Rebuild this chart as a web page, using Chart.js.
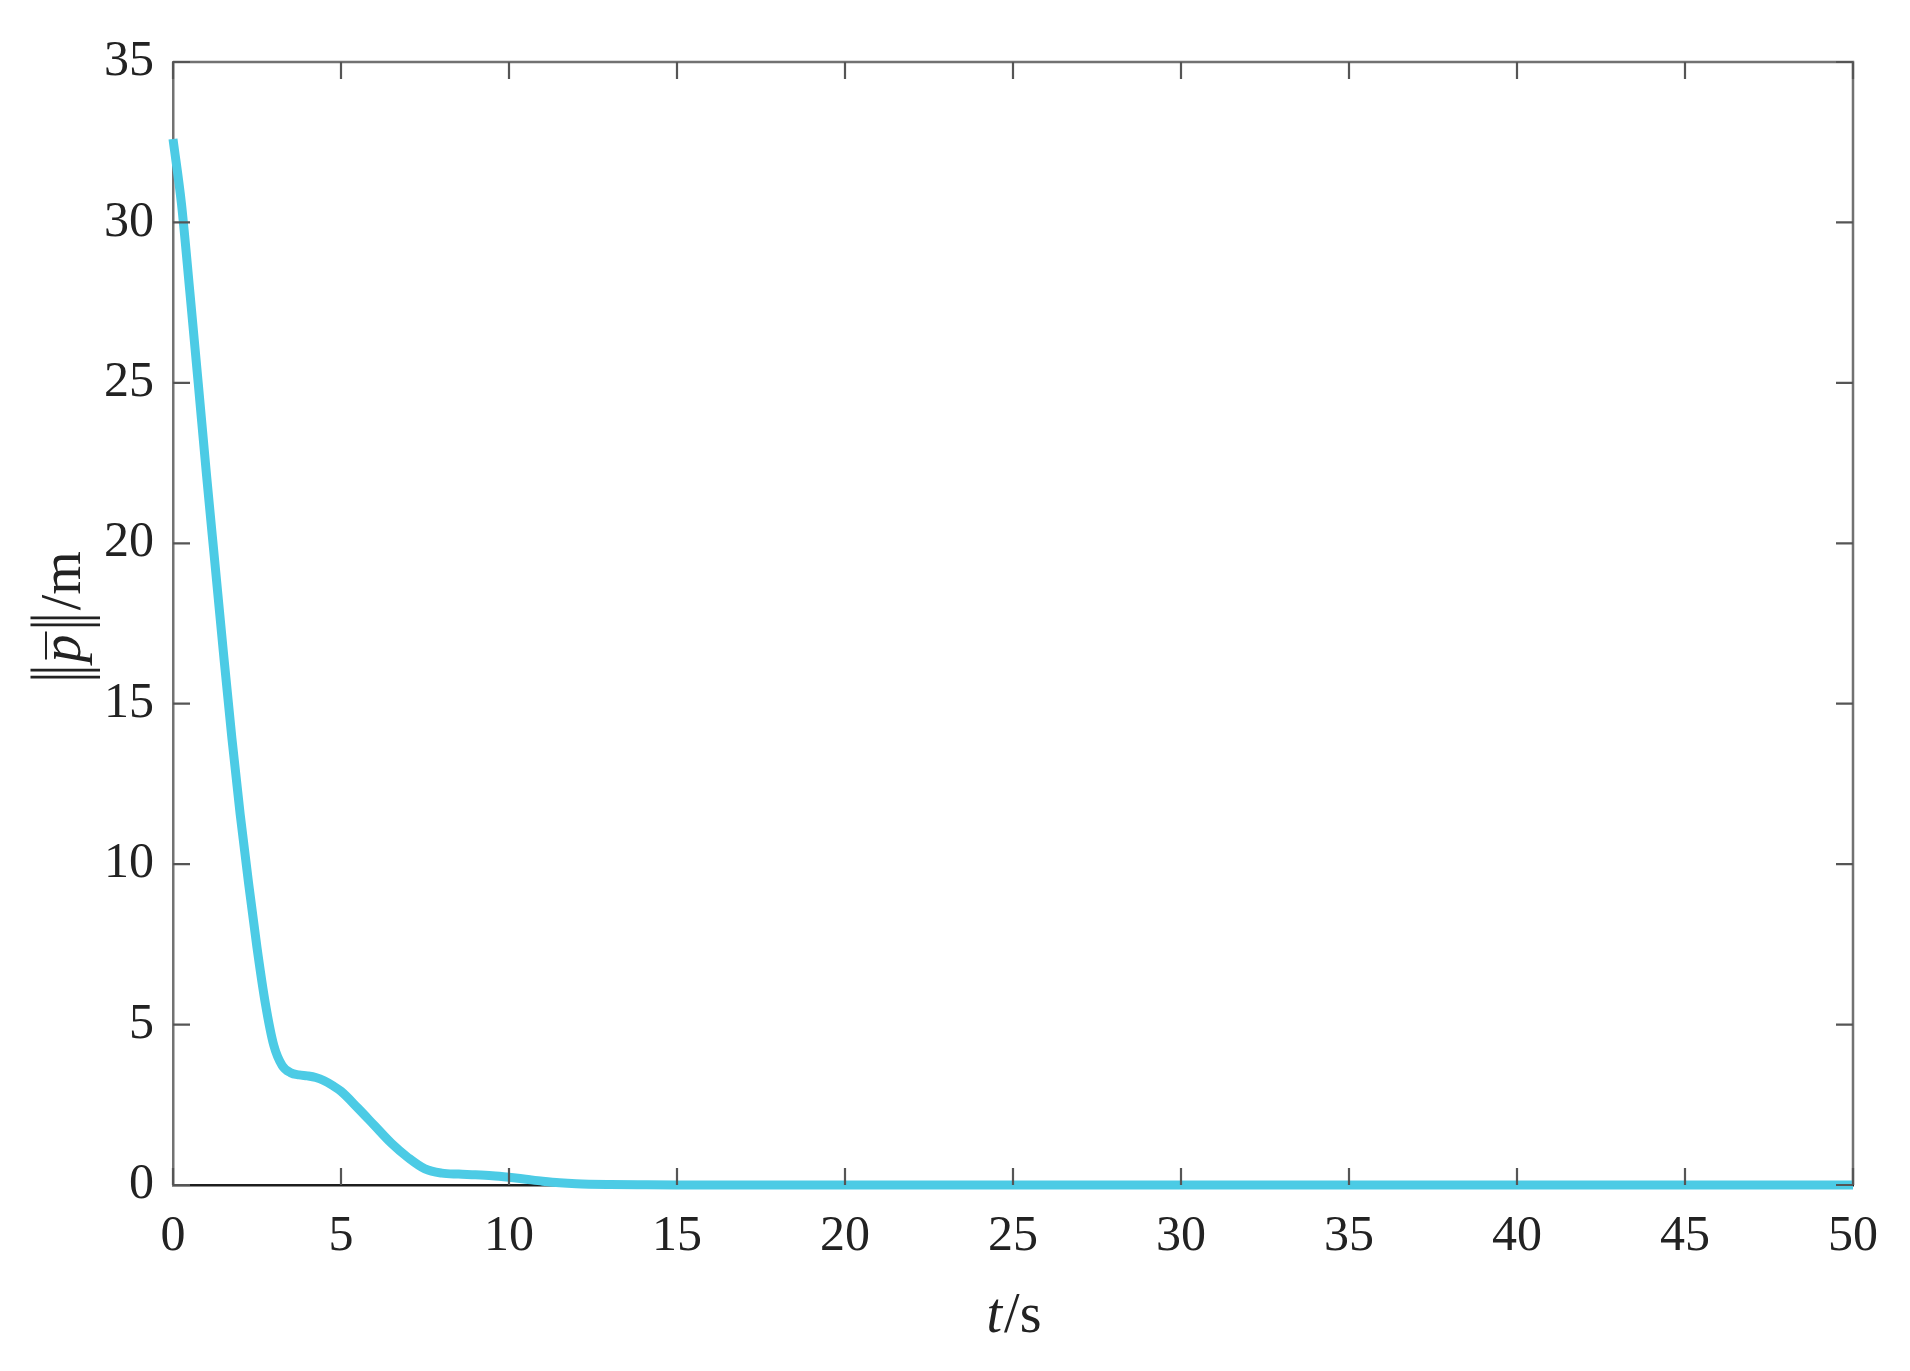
<!DOCTYPE html>
<html>
<head>
<meta charset="utf-8">
<script src="https://cdn.jsdelivr.net/npm/chart.js@4.4.1/dist/chart.umd.min.js"></script>
<style>
  html, body { margin: 0; padding: 0; background: #fff; }
  #wrap { width: 1910px; height: 1371px; }
</style>
</head>
<body>
<div id="wrap"><canvas id="chart" width="1910" height="1371"></canvas></div>
<script>
// time samples (s) and norm of the mean position error (m)
const timeValues = [
  0, 0.25, 0.5, 0.75, 1.0, 1.25, 1.5, 1.75, 2.0, 2.25, 2.5, 2.75, 3.0,
  3.25, 3.5, 3.75, 4.0, 4.25, 4.5, 4.75, 5.0, 5.5, 6.0, 6.5, 7.0, 7.5,
  8.0, 8.5, 9.0, 9.5, 10.0, 10.5, 11.0, 11.5, 12.0, 13.0, 14.0, 15.0,
  20.0, 25.0, 30.0, 35.0, 40.0, 45.0, 50.0,
];
const normValues = [
  32.6, 30.6, 27.85, 25.0, 22.1, 19.35, 16.6, 13.95, 11.55, 9.4, 7.4, 5.65, 4.35,
  3.72, 3.5, 3.43, 3.4, 3.35, 3.25, 3.1, 2.92, 2.4, 1.85, 1.3, 0.85, 0.5,
  0.37, 0.34, 0.32, 0.29, 0.24, 0.18, 0.12, 0.07, 0.04, 0.015, 0.005, 0,
  0, 0, 0, 0, 0, 0, 0,
];
const xTickValues = [0, 5, 10, 15, 20, 25, 30, 35, 40, 45, 50];
const yTickValues = [0, 5, 10, 15, 20, 25, 30, 35];

const lineColor = "#4ccbe5";
const axisColor = "#727272";
const textColor = "#222222";
const serif = '"Liberation Serif", "DejaVu Serif", serif';

// top/right frame and inward tick marks on all four sides
const frameTicks = {
  id: "frameTicks",
  beforeDatasetsDraw(chart) {
    const { ctx, chartArea: a } = chart;
    ctx.save();
    ctx.strokeStyle = axisColor;
    ctx.lineWidth = 2.5;
    ctx.beginPath();
    ctx.moveTo(a.left, a.top);
    ctx.lineTo(a.right, a.top);
    ctx.lineTo(a.right, a.bottom);
    ctx.stroke();
    ctx.restore();
  },
  afterDatasetsDraw(chart) {
    const { ctx, chartArea: a, scales } = chart;
    const len = 17;
    ctx.save();
    ctx.strokeStyle = "#555";
    ctx.lineWidth = 2.2;
    ctx.beginPath();
    xTickValues.forEach((v) => {
      const px = scales.x.getPixelForValue(v);
      ctx.moveTo(px, a.bottom);
      ctx.lineTo(px, a.bottom - len);
      ctx.moveTo(px, a.top);
      ctx.lineTo(px, a.top + len);
    });
    yTickValues.forEach((v) => {
      const py = scales.y.getPixelForValue(v);
      ctx.moveTo(a.left, py);
      ctx.lineTo(a.left + len, py);
      ctx.moveTo(a.right, py);
      ctx.lineTo(a.right - len, py);
    });
    ctx.stroke();
    ctx.restore();
  },
  afterDraw(chart) {
    const { ctx, chartArea: a } = chart;
    ctx.save();
    ctx.fillStyle = textColor;
    ctx.textBaseline = "alphabetic";
    ctx.textAlign = "left";

    // x title: t/s
    const italic = "italic 56px " + serif;
    const upright = "56px " + serif;
    ctx.font = italic;
    const wT = ctx.measureText("t").width;
    ctx.font = upright;
    const wS = ctx.measureText("/s").width;
    let x0 = (a.left + a.right) / 2 - (wT + wS) / 2;
    ctx.font = italic;
    ctx.fillText("t", x0, 1332);
    ctx.font = upright;
    ctx.fillText("/s", x0 + wT + 2, 1332);

    // y title: ‖p̄‖/m, rotated; the norm bars are stretched taller, as in TeX
    const barStretch = 1.35;
    ctx.translate(80, 617);
    ctx.rotate(-Math.PI / 2);
    ctx.font = upright;
    const wBar = ctx.measureText("|").width;
    const wM = ctx.measureText("/m").width;
    ctx.font = italic;
    const wP = ctx.measureText("p").width;
    const gap = 7;
    const wNorm = wBar + gap;
    const total = wNorm * 2 + wP + wM + 8;
    let cx = -total / 2;
    const drawNorm = () => {
      ctx.save();
      ctx.font = upright;
      ctx.scale(1, barStretch);
      ctx.fillText("|", cx, 4 / barStretch);
      ctx.fillText("|", cx + gap, 4 / barStretch);
      ctx.restore();
      cx += wNorm;
    };
    drawNorm();
    cx += 2;
    ctx.font = italic;
    ctx.fillText("p", cx, 0);
    ctx.strokeStyle = textColor;
    ctx.lineWidth = 2;
    ctx.beginPath();
    ctx.moveTo(cx + 3, -34);
    ctx.lineTo(cx + wP + 3, -34);
    ctx.stroke();
    cx += wP + 4;
    drawNorm();
    cx += 2;
    ctx.font = upright;
    ctx.fillText("/m", cx, 0);
    ctx.restore();
  },
};

new Chart(document.getElementById("chart"), {
  type: "scatter",
  data: {
    datasets: [
      {
        data: timeValues.map((t, i) => ({ x: t, y: normValues[i] })),
        showLine: true,
        borderColor: lineColor,
        backgroundColor: lineColor,
        borderWidth: 9,
        pointRadius: 0,
        cubicInterpolationMode: "monotone",
        borderCapStyle: "butt",
        clip: 8,
      },
    ],
  },
  options: {
    responsive: false,
    animation: false,
    devicePixelRatio: 1,
    layout: { padding: { left: 0, top: 62, right: 57, bottom: 0 } },
    plugins: {
      legend: { display: false },
      tooltip: { enabled: false },
    },
    scales: {
      x: {
        type: "linear",
        min: 0,
        max: 50,
        afterFit: (s) => { s.height = 186; },
        afterBuildTicks: (s) => { s.ticks = xTickValues.map((v) => ({ value: v })); },
        grid: { display: false, drawTicks: false },
        border: { display: true, color: "#1e1e1e", width: 2.5 },
        ticks: {
          color: textColor,
          padding: 22,
          maxRotation: 0,
          autoSkip: false,
          font: { family: serif, size: 50 },
        },
      },
      y: {
        type: "linear",
        min: 0,
        max: 35,
        afterFit: (s) => { s.width = 173; },
        afterBuildTicks: (s) => { s.ticks = yTickValues.map((v) => ({ value: v })); },
        grid: { display: false, drawTicks: false },
        border: { display: true, color: axisColor, width: 2.5 },
        ticks: {
          color: textColor,
          padding: 19,
          autoSkip: false,
          font: { family: serif, size: 50 },
        },
      },
    },
  },
  plugins: [frameTicks],
});
</script>
</body>
</html>
